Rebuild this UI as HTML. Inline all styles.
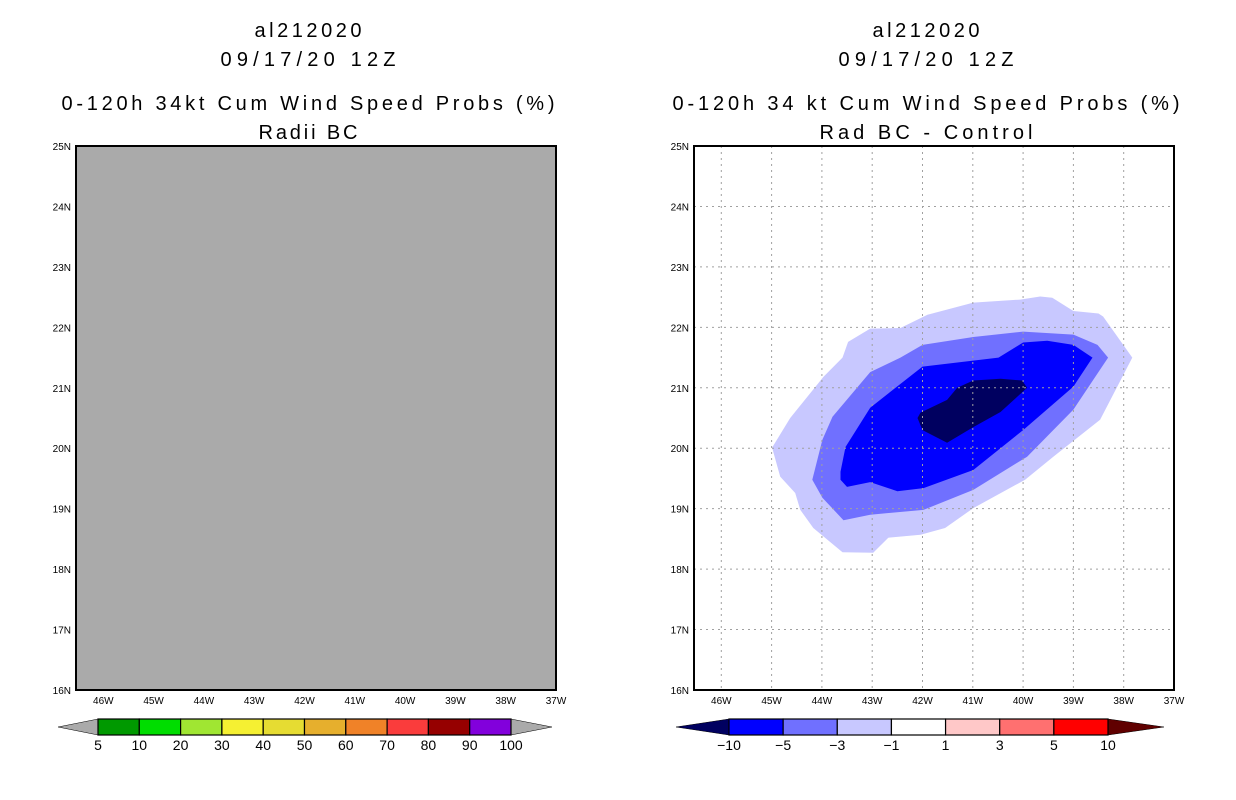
<!DOCTYPE html>
<html><head><meta charset="utf-8"><style>
body{margin:0;background:#fff;}
svg{display:block;font-family:"Liberation Sans",sans-serif;}
</style></head><body>
<svg id="c" width="1236" height="800">
<g font-size="20" text-anchor="middle" fill="#000">
<text x="308" y="37" textLength="107" lengthAdjust="spacing">al212020</text>
<text x="308" y="66" textLength="175" lengthAdjust="spacing">09/17/20 12Z</text>
<text x="308" y="110" textLength="493" lengthAdjust="spacing">0-120h 34kt Cum Wind Speed Probs (%)</text>
<text x="308" y="139" textLength="99" lengthAdjust="spacing">Radii BC</text>
<text x="926" y="37" textLength="107" lengthAdjust="spacing">al212020</text>
<text x="926" y="66" textLength="175" lengthAdjust="spacing">09/17/20 12Z</text>
<text x="926" y="110" textLength="507" lengthAdjust="spacing">0-120h 34 kt Cum Wind Speed Probs (%)</text>
<text x="926" y="139" textLength="213" lengthAdjust="spacing">Rad BC - Control</text>
</g>
</svg>
<script>
const lonTicks=[-46,-45,-44,-43,-42,-41,-40,-39,-38,-37];
const latTicks=[16,17,18,19,20,21,22,23,24,25];
const leftBins=["5","10","20","30","40","50","60","70","80","90","100"];
const leftColors=["#009900","#00dd00","#a0e632","#f5f032","#e6dc32","#e6af2d","#f08228","#fa3c3c","#960000","#8200dc"];
const rightBins=["-10","-5","-3","-1","1","3","5","10"];
const rightColors=["#0000ff","#7070ff","#c8c8ff","#ffffff","#ffc8c8","#ff7070","#ff0000"];
const levelColors=["#c8c8ff","#7070ff","#0000ff","#000060"];
const lvlNames=["contour-minus1","contour-minus3","contour-minus5","contour-minus10"];
const contourLon=[
[-44.99,-44.83,-44.53,-44.43,-44.17,-43.59,-42.98,-42.68,-42.04,-41.55,-40.99,-39.96,-39.40,-38.47,-37.83,-38.41,-38.50,-39.00,-39.42,-39.66,-40.06,-40.99,-41.90,-42.44,-43.04,-43.48,-43.59,-43.97,-44.63],
[-44.19,-43.99,-43.57,-43.04,-41.98,-40.99,-39.92,-39.00,-38.31,-38.52,-39.00,-40.00,-40.99,-42.00,-42.44,-43.04,-43.79,-43.99],
[-43.63,-43.50,-43.04,-42.50,-41.98,-40.99,-40.00,-39.00,-38.62,-39.00,-39.52,-40.00,-40.49,-42.00,-43.04,-43.53,-43.63],
[-42.10,-42.00,-41.51,-40.99,-40.45,-39.92,-40.02,-40.45,-40.99,-41.31,-41.51,-42.04]];
const contourLat=[
[20.01,19.53,19.26,18.98,18.68,18.28,18.27,18.52,18.57,18.68,19.01,19.48,19.86,20.47,21.50,22.18,22.23,22.27,22.49,22.51,22.46,22.41,22.21,21.99,21.98,21.76,21.50,21.18,20.50],
[19.48,19.18,18.81,18.90,18.98,19.31,19.86,20.64,21.50,21.71,21.88,21.93,21.84,21.71,21.50,21.26,20.52,20.14],
[19.48,19.36,19.44,19.29,19.34,19.64,20.30,21.02,21.50,21.71,21.78,21.75,21.50,21.35,20.67,20.02,19.61],
[20.50,20.30,20.09,20.35,20.60,21.00,21.12,21.15,21.12,21.00,20.80,20.59]];

const NS="http://www.w3.org/2000/svg";
const svgEl=document.getElementById('c');
function mk(t,a,p){const e=document.createElementNS(NS,t);for(const k in a)e.setAttribute(k,a[k]);(p||svgEl).appendChild(e);return e;}
const panels=[{x0:76,x1:556,off:-618},{x0:694,x1:1174,off:0}];
const yTop=146,yBot=690;
function X(lon,p){return 1174+p.off+(lon+37)*50.3;}
function Y(lat){return yBot-(lat-16)*60.44;}

const L=panels[0],R=panels[1];
const lf=mk('rect',{x:L.x0,y:yTop,width:L.x1-L.x0,height:yBot-yTop,fill:'#aaaaaa'});


for(let i=0;i<contourLon.length;i++){
  const pts=contourLon[i].map((lo,j)=>X(lo,R).toFixed(1)+','+Y(contourLat[i][j]).toFixed(1)).join(' ');
  const pg=mk('polygon',{points:pts,fill:levelColors[i]});
  
  
}
for(const lo of lonTicks){if(lo===-37)continue;const x=X(lo,R);
  const g=mk('line',{x1:x,x2:x,y1:yTop,y2:yBot,stroke:'#a0a0a0','stroke-dasharray':'2,4'});
  
  }
for(const la of latTicks){if(la===16||la===25)continue;const y=Y(la);
  const g=mk('line',{x1:R.x0,x2:R.x1,y1:y,y2:y,stroke:'#a0a0a0','stroke-dasharray':'2,4'});
  
  }
panels.forEach((p,pi)=>{
  const fr=mk('rect',{x:p.x0,y:yTop,width:p.x1-p.x0,height:yBot-yTop,fill:'none',stroke:'#000','stroke-width':2});
  
  
  for(const lo of lonTicks){const x=X(lo,p);
    const t=mk('text',{x:x,y:704,'font-size':10,'text-anchor':'middle'});t.textContent=Math.abs(lo)+'W';
    
    }
  for(const la of latTicks){const y=Y(la);
    const t=mk('text',{x:p.x0-5,y:y+4,'font-size':10,'text-anchor':'end'});t.textContent=la+'N';
    
    }
});
function bar(bx0,bx1,tl,tr,cols,labs,lc,rc,name){
  const n=cols.length,w=(bx1-bx0)/n,y0=719,y1=735,ym=727;
  const a=mk('polygon',{points:`${tl},${ym} ${bx0},${y0} ${bx0},${y1}`,fill:lc,stroke:'#000','stroke-width':0.5});
  
  
  const b=mk('polygon',{points:`${tr},${ym} ${bx1},${y0} ${bx1},${y1}`,fill:rc,stroke:'#000','stroke-width':0.5});
  
  
  cols.forEach((c,i)=>{const r=mk('rect',{x:bx0+i*w,y:y0,width:w,height:y1-y0,fill:c,stroke:'#000','stroke-width':1.2});
    
    });
  labs.forEach((l,i)=>{const t=mk('text',{x:bx0+i*w,y:750,'font-size':14,'text-anchor':'middle'});t.textContent=l.replace('-','\u2212');
    
    });
}
bar(98,511,58,552,leftColors,leftBins,'#aaaaaa','#aaaaaa','left-colorbar');
bar(729,1108,676,1164,rightColors,rightBins,'#000060','#600000','right-colorbar');
</script>
</body></html>
